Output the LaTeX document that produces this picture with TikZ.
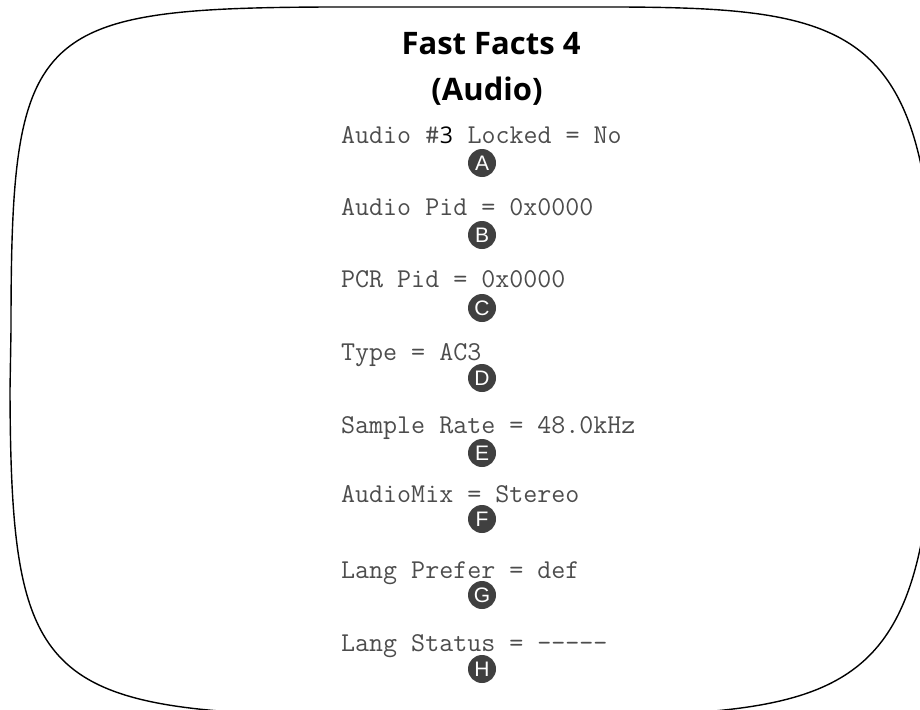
\documentclass[tikz,border=0pt]{standalone}
\usepackage{fontspec}
\newfontfamily\titlefont{Open Sans}
\newfontfamily\badgefont{Liberation Sans}
\usetikzlibrary{positioning}

\begin{document}
\begin{tikzpicture}[x=1pt,y=-1pt,
    screen/.style={draw=black,line width=1.4pt},
    title/.style={anchor=base,inner sep=0pt,
      font=\titlefont\bfseries\fontsize{31}{36}\selectfont},
    info/.style={anchor=base west,inner sep=0pt,text=black!70,
      font=\ttfamily\fontsize{27.2}{30}\selectfont},
    badge/.style={circle,fill=black!75,text=white,inner sep=0pt,
      minimum size=28pt,font=\badgefont\fontsize{21}{21}\selectfont}
  ]
  \useasboundingbox (0,0) rectangle (920,709);
  % screen outline, runs off the right and bottom edges
  \begin{scope}
    \clip (0,0) rectangle (920,709);
    \draw[screen] (330,7) -- (620,7)
      .. controls (860,8) and (932,30) .. (935,330)
      -- (935,390)
      .. controls (928,685) and (860,712) .. (600,716)
      -- (360,716)
      .. controls (40,713) and (11,685) .. (10,390)
      -- (11,330)
      .. controls (11,30) and (30,8) .. cycle;
  \end{scope}
  \node[title] (head) at (491,55) {Fast Facts 4};
  \node[title] (sub) at (487,100) {(Audio)};
  \node[info] (lock) at (341,143)
    {Audio \#\makebox[0.525em]{\color{black}\titlefont\fontsize{23}{23}\selectfont 3} Locked = No};
  \node[info] (apid) at (341,215) {Audio Pid = 0x0000};
  \node[info] (pcr) at (341,287) {PCR Pid = 0x0000};
  \node[info] (type) at (341,360) {Type = AC3};
  \node[info] (rate) at (341,433) {Sample Rate = 48.0kHz};
  \node[info] (mix) at (341,502) {AudioMix = Stereo};
  \node[info] (pref) at (341,578) {Lang Prefer = def};
  \node[info] (stat) at (341,651) {Lang Status = -{}-{}-{}-{}-};
  \node[badge] (bA) at (482,163) {A};
  \node[badge] (bB) at (482,235) {B};
  \node[badge] (bC) at (482,308) {C};
  \node[badge] (bD) at (482,378) {D};
  \node[badge] (bE) at (482,453) {E};
  \node[badge] (bF) at (482,519) {F};
  \node[badge] (bG) at (482,595) {G};
  \node[badge] (bH) at (482,669) {H};
\end{tikzpicture}
\end{document}
